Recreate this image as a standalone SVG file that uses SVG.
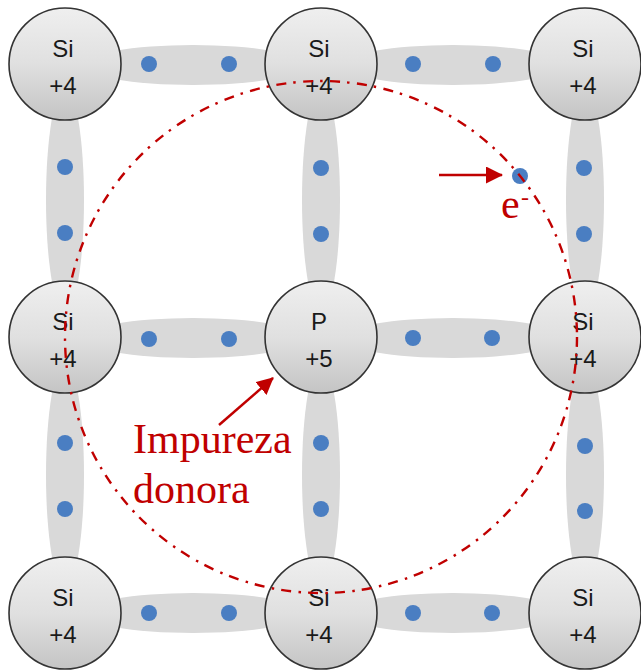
<svg xmlns="http://www.w3.org/2000/svg" width="641" height="670" viewBox="0 0 641 670">
<defs>
  <linearGradient id="atomGrad" x1="0" y1="0" x2="0" y2="1">
    <stop offset="0" stop-color="#efefef"/>
    <stop offset="0.5" stop-color="#e0e0e0"/>
    <stop offset="1" stop-color="#c4c4c4"/>
  </linearGradient>
  <marker id="arrowRed2" markerWidth="17" markerHeight="17" refX="16" refY="8.5" orient="auto" markerUnits="userSpaceOnUse" viewBox="0 0 17 17">
    <path d="M0,0 L17,8.5 L0,17 Z" fill="#c00000"/>
  </marker>
</defs>
<style>
  .bond { fill: #d9d9d9; }
  .dot { fill: #4a7ec2; }
  .atom { fill: url(#atomGrad); stroke: #333333; stroke-width: 1.6; }
  .lbl { font-family: "Liberation Sans", Arial, sans-serif; font-size: 24px; fill: #1a1a1a; text-anchor: middle; }
  .red { font-family: "Liberation Serif", "Times New Roman", serif; fill: #c00000; }
  .orbit { fill: none; stroke: #c00000; stroke-width: 2.4; stroke-dasharray: 10 7 2.5 7.5; }
  .arrow { stroke: #c00000; stroke-width: 2.5; fill: none; }
</style>
<rect width="641" height="670" fill="#ffffff"/>

<g id="connectors">
  <ellipse class="bond" cx="193" cy="65" rx="110" ry="20"/>
  <ellipse class="bond" cx="453" cy="65" rx="110" ry="20"/>
  <ellipse class="bond" cx="193" cy="338" rx="110" ry="20"/>
  <ellipse class="bond" cx="453" cy="338" rx="110" ry="20"/>
  <ellipse class="bond" cx="193" cy="613" rx="110" ry="20"/>
  <ellipse class="bond" cx="453" cy="613" rx="110" ry="20"/>
  <ellipse class="bond" cx="65" cy="200" rx="19" ry="112"/>
  <ellipse class="bond" cx="321" cy="200" rx="19" ry="112"/>
  <ellipse class="bond" cx="585" cy="200" rx="19" ry="112"/>
  <ellipse class="bond" cx="65" cy="475" rx="19" ry="112"/>
  <ellipse class="bond" cx="321" cy="475" rx="19" ry="112"/>
  <ellipse class="bond" cx="585" cy="475" rx="19" ry="112"/>
</g>

<g id="atoms">
  <g id="n11"><circle class="atom" cx="65" cy="64" r="56"/><text class="lbl" x="63" y="57">Si</text><text class="lbl" x="63" y="94">+4</text></g>
  <g id="n12"><circle class="atom" cx="321" cy="64" r="56"/><text class="lbl" x="319" y="57">Si</text><text class="lbl" x="319" y="94">+4</text></g>
  <g id="n13"><circle class="atom" cx="585" cy="64" r="56"/><text class="lbl" x="583" y="57">Si</text><text class="lbl" x="583" y="94">+4</text></g>
  <g id="n21"><circle class="atom" cx="65" cy="337" r="56"/><text class="lbl" x="63" y="330">Si</text><text class="lbl" x="63" y="367">+4</text></g>
  <g id="n22"><circle class="atom" cx="321" cy="337" r="56"/><text class="lbl" x="319" y="330">P</text><text class="lbl" x="319" y="367">+5</text></g>
  <g id="n23"><circle class="atom" cx="585" cy="337" r="56"/><text class="lbl" x="583" y="330">Si</text><text class="lbl" x="583" y="367">+4</text></g>
  <g id="n31"><circle class="atom" cx="65" cy="613" r="56"/><text class="lbl" x="63" y="606">Si</text><text class="lbl" x="63" y="643">+4</text></g>
  <g id="n32"><circle class="atom" cx="321" cy="613" r="56"/><text class="lbl" x="319" y="606">Si</text><text class="lbl" x="319" y="643">+4</text></g>
  <g id="n33"><circle class="atom" cx="585" cy="613" r="56"/><text class="lbl" x="583" y="606">Si</text><text class="lbl" x="583" y="643">+4</text></g>
</g>

<g id="electrons">
  <circle class="dot" cx="149" cy="64" r="8"/><circle class="dot" cx="229" cy="64" r="8"/>
  <circle class="dot" cx="413" cy="64" r="8"/><circle class="dot" cx="493" cy="64" r="8"/>
  <circle class="dot" cx="149" cy="339" r="8"/><circle class="dot" cx="229" cy="339" r="8"/>
  <circle class="dot" cx="413" cy="338" r="8"/><circle class="dot" cx="492" cy="338" r="8"/>
  <circle class="dot" cx="149" cy="613" r="8"/><circle class="dot" cx="229" cy="613" r="8"/>
  <circle class="dot" cx="413" cy="613" r="8"/><circle class="dot" cx="492" cy="613" r="8"/>
  <circle class="dot" cx="65" cy="167" r="8"/><circle class="dot" cx="65" cy="233" r="8"/>
  <circle class="dot" cx="321" cy="168" r="8"/><circle class="dot" cx="321" cy="234" r="8"/>
  <circle class="dot" cx="584" cy="168" r="8"/><circle class="dot" cx="584" cy="234" r="8"/>
  <circle class="dot" cx="65" cy="443" r="8"/><circle class="dot" cx="65" cy="509" r="8"/>
  <circle class="dot" cx="321" cy="443" r="8"/><circle class="dot" cx="321" cy="509" r="8"/>
  <circle class="dot" cx="585" cy="446" r="8"/><circle class="dot" cx="585" cy="511" r="8"/>
  <circle id="free-electron" class="dot" cx="520" cy="176" r="8"/>
</g>

<g id="annotations">
  <circle class="orbit" cx="321" cy="337" r="256"/>
  <line class="arrow" x1="439" y1="175" x2="502" y2="175" marker-end="url(#arrowRed2)"/>
  <text class="red" x="501" y="218" font-size="42">e<tspan x="521" y="205" font-size="24">-</tspan></text>
  <line class="arrow" x1="219" y1="425" x2="273" y2="378" marker-end="url(#arrowRed2)"/>
  <text class="red" x="133" y="453" font-size="42">Impureza</text>
  <text class="red" x="133" y="503" font-size="42">donora</text>
</g>
</svg>
